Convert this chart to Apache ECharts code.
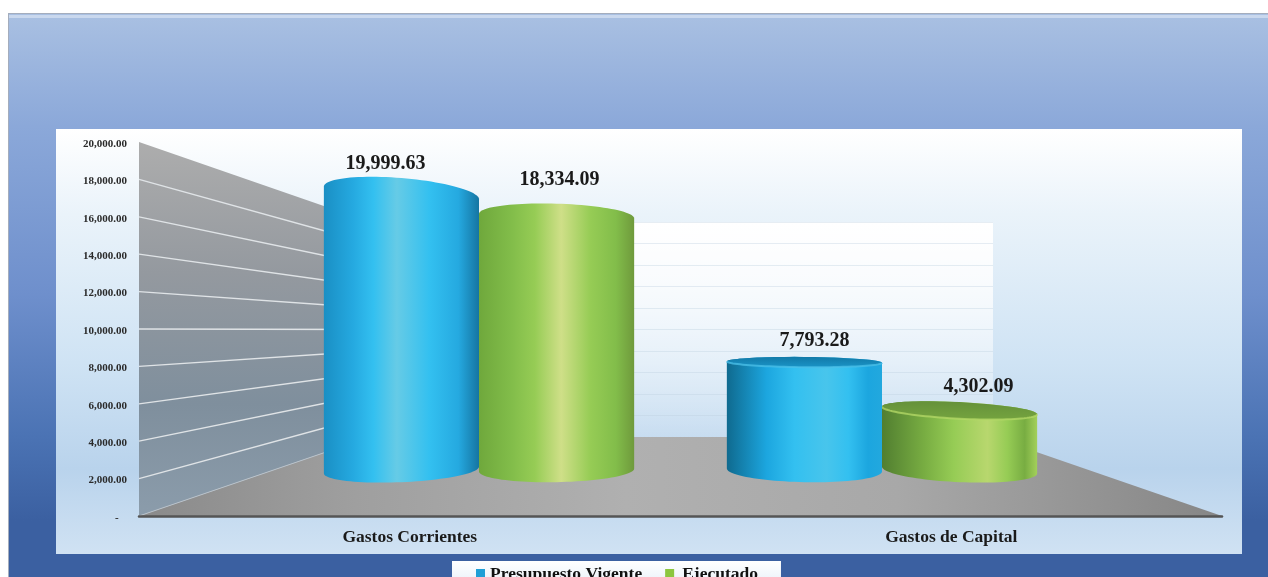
<!DOCTYPE html>
<html>
<head>
<meta charset="utf-8">
<style>html,body{margin:0;padding:0;background:#fff;overflow:hidden}#c{width:1268px;height:577px;filter:blur(0.45px)}</style>
<script src="https://cdn.jsdelivr.net/npm/echarts@6/dist/echarts.min.js"></script>
</head>
<body>
<div id="c"></div>
<script>
// ---- data ----
var categories = ['Gastos Corrientes', 'Gastos de Capital'];
var presupuestoVigente = [19999.63, 7793.28];
var ejecutado = [18334.09, 4302.09];
var yTickLabels = ['-   ', '2,000.00', '4,000.00', '6,000.00', '8,000.00', '10,000.00', '12,000.00', '14,000.00', '16,000.00', '18,000.00', '20,000.00'];
var yTickValues = [0, 2000, 4000, 6000, 8000, 10000, 12000, 14000, 16000, 18000, 20000];

// ---- perspective scene ----
var FONT = '"Liberation Serif","Times New Roman",serif';
var front = {left: 139, top: 142, width: 1083, height: 374};
var back = {left: 370, top: 222, width: 623, height: 215};
var plane = {left: 277.5, top: 193, width: 806, height: 277};
var vanish = {x: 679, y: 329};

var chart = echarts.init(document.getElementById('c'), null, {renderer: 'canvas'});

function fmt(v) {
  return v.toLocaleString('en-US', {minimumFractionDigits: 2, maximumFractionDigits: 2});
}
function vGrad(stops) {
  return {type: 'linear', x: 0, y: 0, x2: 0, y2: 1, colorStops: stops.map(function (s) { return {offset: s[0], color: s[1]}; })};
}
function hGrad(stops) {
  return {type: 'linear', x: 0, y: 0, x2: 1, y2: 0, colorStops: stops.map(function (s) { return {offset: s[0], color: s[1]}; })};
}
function radiusAt(y) {
  var d = y - vanish.y;
  return d < 0 ? -d * 0.11 : 3 + 0.065 * d;
}
function slopeAt(y, cx, k) {
  return k * (y - vanish.y) * (cx - vanish.x);
}
function arc(cx, cy, rx, ry, slope, from, to, sign) {
  var pts = [];
  var n = 48;
  for (var i = 0; i <= n; i++) {
    var t = from + (to - from) * i / n;
    var x = cx + rx * Math.cos(t);
    pts.push([x, cy + sign * ry * Math.sin(t) + slope * (x - cx) / (2 * rx)]);
  }
  return pts;
}

var looks = {
  blue: {
    edges: [['#1a8fc4', '#1575a2'], ['#0f6a8f', '#22a8de']],
    mid: ['#25a9e0', '#1ca6df'], bright: '#33c0f0', hi: ['#66cbe6', '#48c5ec'],
    face: ['#127aa8', '#1a93c6'], rim: '#4cc0e8', at: [0.47, 0.64], order: [1, 3]
  },
  green: {
    edges: [['#6fa83c', '#6f9a3c'], ['#517e30', '#a3d05a']],
    mid: ['#82bd4a', '#78ad42'], bright: '#96cc55', hi: ['#cfdf88', '#b8d76e'],
    face: ['#65913a', '#74a33f'], rim: '#b6da68', at: [0.53, 0.68], order: [2, 2]
  }
};
var labelNudge = {blue: [[-16, -14], [10, -16]], green: [[3, -24], [19, -15]]};

function cylinder(look, nudge, sideOffset) {
  return function (params, api) {
    var idx = api.value(0);
    var val = api.value(1);
    var band = api.size([1, 0])[0];
    var w = band * 0.385;
    var base = api.coord([idx, 0]);
    var top = api.coord([idx, val]);
    var cx = base[0] + sideOffset * w / 2;
    var rx = w / 2;
    var yt = top[1];
    var yb = base[1];
    var rt = radiusAt(yt);
    var rb = radiusAt(yb);
    var st = slopeAt(yt, cx, 0.000335);
    var sb = slopeAt(yb, cx, 0.00017);
    var pts = arc(cx, yt, rx, rt, st, Math.PI, 0, -1).concat(arc(cx, yb, rx, rb, sb, 0, Math.PI, 1));
    var h = look.at[idx];
    var e = look.edges[idx];
    var z = look.order[idx];
    var m = look.mid[idx];
    var hi = look.hi[idx];
    var children = [{
      type: 'polygon', z2: z,
      shape: {points: pts},
      style: {fill: hGrad([[0, e[0]], [h * 0.4, m], [h * 0.68, look.bright], [h, hi], [h + (1 - h) * 0.4, look.bright], [h + (1 - h) * 0.75, m], [1, e[1]]])}
    }];
    if (yt > vanish.y) {
      children.push({
        type: 'polygon', z2: z,
        shape: {points: arc(cx, yt, rx, rt, st, 0, 2 * Math.PI, 1)},
        style: {fill: vGrad([[0, look.face[0]], [1, look.face[1]]])}
      });
      children.push({
        type: 'polyline', z2: z,
        shape: {points: arc(cx, yt, rx, rt, st, 0, Math.PI, 1)},
        style: {fill: 'none', stroke: look.rim, lineWidth: 2, opacity: 0.75}
      });
    }
    var n = nudge[idx];
    children.push({
      type: 'text', z2: 20,
      style: {
        text: fmt(val), x: cx + n[0], y: yt - rt + n[1],
        align: 'center', verticalAlign: 'middle',
        font: 'bold 20px ' + FONT, fill: '#1a1a1a'
      }
    });
    return {type: 'group', children: children};
  };
}

function wall(params, api) {
  var s = params.coordSys;
  var bx = back.left, by = back.top, bb = back.top + back.height, br = back.left + back.width;
  var fb = s.y + s.height, fr = s.x + s.width;
  return {type: 'group', children: [
    {type: 'polygon', shape: {points: [[s.x, s.y], [bx, by], [bx, bb], [s.x, fb]]},
      style: {fill: vGrad([[0, '#adadad'], [0.35, '#94999f'], [0.7, '#7f8f9d'], [1, '#8b9cab']])}},
    {type: 'polygon', shape: {points: [[s.x, fb], [bx, bb], [br, bb], [fr, fb]]},
      style: {fill: hGrad([[0, '#8a8a8a'], [0.2, '#9f9f9f'], [0.45, '#b0b0b0'], [0.7, '#a8a8a8'], [1, '#868686']])}},
    {type: 'line', shape: {x1: s.x, y1: fb, x2: bx, y2: bb}, style: {stroke: '#b9c2ca', lineWidth: 1}}
  ]};
}
function wallLine(params, api) {
  var v = api.value(0);
  var p = api.coord([0, v]);
  var x0 = params.coordSys.x;
  var yBack = chart.convertToPixel({yAxisIndex: 1}, v);
  return {type: 'line', shape: {x1: x0, y1: p[1], x2: back.left, y2: yBack},
    style: {stroke: '#dfe3e6', lineWidth: 1.3}};
}

var option = {
  animation: false,
  backgroundColor: '#ffffff',
  graphic: [
    {type: 'rect', z: -10, shape: {x: 8, y: 13, width: 1260, height: 564}, style: {fill: '#a4adbd'}},
    {type: 'rect', z: -9, shape: {x: 9, y: 14, width: 1259, height: 563},
      style: {fill: vGrad([[0, '#a9c0e2'], [0.2, '#8ba8d9'], [0.5, '#6e8fcc'], [0.75, '#4b73b4'], [0.9, '#3b60a1'], [1, '#3b60a1']])}},
    {type: 'rect', z: -8, shape: {x: 9, y: 15, width: 1259, height: 3}, style: {fill: '#c9d8ee'}},
    {type: 'rect', z: -7, shape: {x: 56, y: 129, width: 1186, height: 425},
      style: {fill: vGrad([[0, '#ffffff'], [0.2, '#eaf3fa'], [0.55, '#cfe3f4'], [0.8, '#b9d3ec'], [1, '#d0e2f3']])}},
    {type: 'rect', z: -6, shape: {x: back.left, y: back.top, width: back.width, height: back.height},
      style: {fill: vGrad([[0, 'rgba(255,255,255,1)'], [0.3, 'rgba(255,255,255,0.8)'], [1, 'rgba(255,255,255,0.12)'] ])}}
  ],
  legend: {
    left: 452, top: 561, padding: [4, 23, 20, 24], itemGap: 23,
    itemWidth: 9, itemHeight: 10, icon: 'rect',
    data: ['Presupuesto Vigente', {name: 'Ejecutado', textStyle: {padding: [0, 0, 0, 3]}}],
    backgroundColor: vGrad([[0, '#ffffff'], [1, '#d8e6f4']]),
    textStyle: {fontFamily: FONT, fontWeight: 'bold', fontSize: 17.5, color: '#111'}
  },
  grid: [
    {left: front.left, top: front.top, width: front.width, height: front.height, show: false},
    {left: back.left, top: back.top, width: back.width, height: back.height, show: false},
    {left: plane.left, top: plane.top, width: plane.width, height: plane.height, show: false}
  ],
  xAxis: [
    {type: 'category', gridIndex: 0, data: categories, z: 5,
      axisLine: {show: true, lineStyle: {color: '#555555', width: 2.5}}, axisTick: {show: false},
      axisLabel: {fontFamily: FONT, fontWeight: 'bold', fontSize: 17.5, color: '#1a1a1a', margin: 12}},
    {type: 'category', gridIndex: 1, data: categories, show: false},
    {type: 'category', gridIndex: 2, data: categories, show: false}
  ],
  yAxis: [
    {type: 'value', gridIndex: 0, min: 0, max: 20000, interval: 2000,
      axisLine: {show: false}, axisTick: {show: false}, splitLine: {show: false},
      axisLabel: {margin: 12, fontFamily: FONT, fontWeight: 'bold', fontSize: 11, color: '#2a2a2a',
        verticalAlign: 'top', lineHeight: 4,
        formatter: function (v) { return yTickLabels[yTickValues.indexOf(v)]; }}},
    {type: 'value', gridIndex: 1, min: 0, max: 20000, interval: 2000,
      axisLine: {show: false}, axisTick: {show: false}, axisLabel: {show: false},
      splitLine: {show: true, lineStyle: {color: 'rgba(190,208,224,0.38)', width: 1}}},
    {type: 'value', gridIndex: 2, min: 0, max: 20000, show: false}
  ],
  series: [
    {type: 'custom', name: 'wall', xAxisIndex: 0, yAxisIndex: 0, z: 1, silent: true, clip: false,
      data: [[0]], renderItem: wall},
    {type: 'custom', name: 'wallLines', xAxisIndex: 0, yAxisIndex: 0, z: 2, silent: true, clip: false,
      data: yTickValues.slice(1, 10).map(function (v) { return [v]; }),
      encode: {y: 0}, renderItem: wallLine},
    {type: 'custom', name: 'Presupuesto Vigente', xAxisIndex: 2, yAxisIndex: 2, z: 3, clip: false, silent: true,
      itemStyle: {color: '#1f9fd6'}, encode: {x: 0, y: 1},
      data: presupuestoVigente.map(function (v, i) { return [i, v]; }),
      renderItem: cylinder(looks.blue, labelNudge.blue, -1)},
    {type: 'custom', name: 'Ejecutado', xAxisIndex: 2, yAxisIndex: 2, z: 3, clip: false, silent: true,
      itemStyle: {color: '#8cc63f'}, encode: {x: 0, y: 1},
      data: ejecutado.map(function (v, i) { return [i, v]; }),
      renderItem: cylinder(looks.green, labelNudge.green, 1)}
  ]
};
chart.setOption(option);
</script>
</body>
</html>
